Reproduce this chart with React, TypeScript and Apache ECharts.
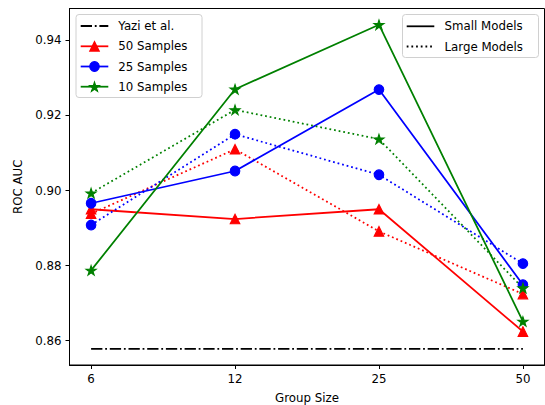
import React, { useEffect, useRef } from "react";
import * as echarts from "echarts";

// ---- data ----
const groupSizes = ["6", "12", "25", "50"];
const yaziBaseline = [0.8578, 0.8578, 0.8578, 0.8578];
const small50 = [0.895, 0.8924, 0.895, 0.8624];
const large50 = [0.8938, 0.911, 0.8891, 0.8724];
const small25 = [0.8966, 0.9052, 0.9269, 0.8749];
const large25 = [0.8908, 0.915, 0.9042, 0.8805];
const small10 = [0.8787, 0.927, 0.9442, 0.8651];
const large10 = [0.8993, 0.9215, 0.9137, 0.874];
const yTicks = [0.86, 0.88, 0.9, 0.92, 0.94];

const FONT = "DejaVu Sans";
const FS = 11.8;
const LW = 1.77;
const DOT = [1.77, 2.92];
const DASHDOT = [11.3, 2.8, 1.8, 2.8];

const STAR_PATH =
  "path://M0,-100L22.45,-30.9L95.1,-30.9L36.33,11.8L58.78,80.9L0,38.2L-58.78,80.9L-36.33,11.8L-95.1,-30.9L-22.45,-30.9Z";

function starPoints(cx: number, cy: number, R: number) {
  const pts: number[][] = [];
  for (let k = 0; k < 10; k++) {
    const a = ((90 + k * 36) * Math.PI) / 180;
    const r = k % 2 === 0 ? R : R * 0.381966;
    pts.push([cx + r * Math.cos(a), cy - r * Math.sin(a)]);
  }
  return pts;
}

export default function App() {
  const ref = useRef<HTMLDivElement>(null);
  useEffect(() => {
    if (!ref.current) return;
    const chart = echarts.init(ref.current, undefined, { renderer: "svg" });

    const all = [yaziBaseline, small50, large50, small25, large25, small10, large10].flat();
    const lo = Math.min(...all);
    const hi = Math.max(...all);
    const pad = (hi - lo) * 0.05;
    const xPad = (groupSizes.length - 1) * 0.05;
    const idx = groupSizes.map((_, i) => i);
    const toData = (arr: number[]) => arr.map((v, i) => [i, v]);

    const mk = (
      name: string,
      arr: number[],
      color: string,
      symbol: string,
      size: number,
      dotted: boolean
    ) => ({
      type: "line",
      name,
      data: toData(arr),
      symbol,
      symbolSize: size,
      symbolKeepAspect: true,
      showSymbol: true,
      lineStyle: { color, width: LW, type: dotted ? DOT : "solid", cap: "butt" },
      itemStyle: { color, borderColor: color, borderWidth: 1.1 },
      emphasis: { disabled: true },
    });

    const series: any[] = [
      {
        type: "line",
        name: "Yazi et al.",
        data: toData(yaziBaseline),
        symbol: "none",
        lineStyle: { color: "#000", width: LW, type: DASHDOT },
        emphasis: { disabled: true },
      },
      mk("50 Samples", small50, "#ff0000", "triangle", 9.6, false),
      mk("50 Samples (large)", large50, "#ff0000", "triangle", 9.6, true),
      mk("25 Samples", small25, "#0000ff", "circle", 9.6, false),
      mk("25 Samples (large)", large25, "#0000ff", "circle", 9.6, true),
      mk("10 Samples", small10, "#008000", STAR_PATH, 10, false),
      mk("10 Samples (large)", large10, "#008000", STAR_PATH, 10, true),
    ];

    // legends
    const txt = (text: string, x: number, y: number) => ({
      type: "text",
      style: { text, x, y, fill: "#000", fontSize: FS, fontFamily: FONT, verticalAlign: "middle", align: "left" },
    });
    const hline = (x1: number, x2: number, y: number, color: string, dash: any) => ({
      type: "line",
      shape: { x1, y1: y, x2, y2: y },
      style: { stroke: color, lineWidth: LW, lineDash: dash },
    });
    const L1x1 = 80.7, L1x2 = 108.3, L1m = 94.5, L1t = 118.3;
    const rows1 = [26, 46.3, 66.5, 86.7];
    const tri = (cx: number, cy: number, s: number, color: string) => ({
      type: "polygon",
      shape: { points: [[cx, cy - s / 2], [cx - s / 2, cy + s / 2], [cx + s / 2, cy + s / 2]] },
      style: { fill: color, stroke: color, lineWidth: 1.1 },
    });
    const graphic: any[] = [
      {
        type: "rect",
        shape: { x: 76, y: 14.5, width: 126, height: 83, r: 3 },
        style: { fill: "rgba(255,255,255,0.8)", stroke: "#d0d0d0", lineWidth: 1 },
      },
      hline(L1x1, L1x2, rows1[0], "#000", DASHDOT),
      txt("Yazi et al.", L1t, rows1[0]),
      hline(L1x1, L1x2, rows1[1], "#ff0000", null),
      tri(L1m, rows1[1], 9.6, "#ff0000"),
      txt("50 Samples", L1t, rows1[1]),
      hline(L1x1, L1x2, rows1[2], "#0000ff", null),
      {
        type: "circle",
        shape: { cx: L1m, cy: rows1[2], r: 4.8 },
        style: { fill: "#0000ff", stroke: "#0000ff", lineWidth: 1.1 },
      },
      txt("25 Samples", L1t, rows1[2]),
      hline(L1x1, L1x2, rows1[3], "#008000", null),
      {
        type: "polygon",
        shape: { points: starPoints(L1m, rows1[3] + 0.5, 5.2) },
        style: { fill: "#008000", stroke: "#008000", lineWidth: 1.1 },
      },
      txt("10 Samples", L1t, rows1[3]),
      {
        type: "rect",
        shape: { x: 402.5, y: 14.5, width: 136, height: 43, r: 3 },
        style: { fill: "rgba(255,255,255,0.8)", stroke: "#d0d0d0", lineWidth: 1 },
      },
      hline(406.7, 434.3, 26.3, "#000", null),
      txt("Small Models", 444.5, 26.3),
      hline(406.7, 434.3, 46.5, "#000", DOT),
      txt("Large Models", 444.5, 46.5),
    ];

    chart.setOption({
      animation: false,
      backgroundColor: "#ffffff",
      textStyle: { fontFamily: FONT },
      grid: {
        left: 69.5,
        right: 0.5,
        top: 8.5,
        bottom: 40,
        containLabel: false,
        outerBoundsMode: "none",
        show: true,
        borderColor: "#000",
        borderWidth: 1,
        backgroundColor: "transparent",
      },
      xAxis: {
        type: "value",
        min: -xPad,
        max: groupSizes.length - 1 + xPad,
        name: "Group Size",
        nameLocation: "middle",
        nameGap: 27,
        nameTextStyle: { color: "#000", fontSize: FS, fontFamily: FONT },
        axisLine: { show: true, onZero: false, lineStyle: { color: "#000", width: 1 } },
        axisTick: { show: true, customValues: idx, length: 4, lineStyle: { color: "#000", width: 1 } },
        axisLabel: {
          customValues: idx,
          margin: 8,
          color: "#000",
          fontSize: FS,
          fontFamily: FONT,
          formatter: (v: number) => groupSizes[Math.round(v)] ?? "",
        },
        splitLine: { show: false },
      },
      yAxis: {
        type: "value",
        min: lo - pad,
        max: hi + pad,
        name: "ROC AUC",
        nameLocation: "middle",
        nameRotate: 90,
        nameGap: 46,
        nameTextStyle: { color: "#000", fontSize: FS, fontFamily: FONT },
        axisLine: { show: true, onZero: false, lineStyle: { color: "#000", width: 1 } },
        axisTick: { show: true, customValues: yTicks, length: 4, lineStyle: { color: "#000", width: 1 } },
        axisLabel: {
          customValues: yTicks,
          margin: 8,
          color: "#000",
          fontSize: FS,
          fontFamily: FONT,
          formatter: (v: number) => v.toFixed(2),
        },
        splitLine: { show: false },
      },
      series,
      graphic,
    });
    return () => chart.dispose();
  }, []);
  return (
    <div
      ref={ref}
      style={{ position: "fixed", left: 0, top: 0, width: 545, height: 405 }}
    />
  );
}
